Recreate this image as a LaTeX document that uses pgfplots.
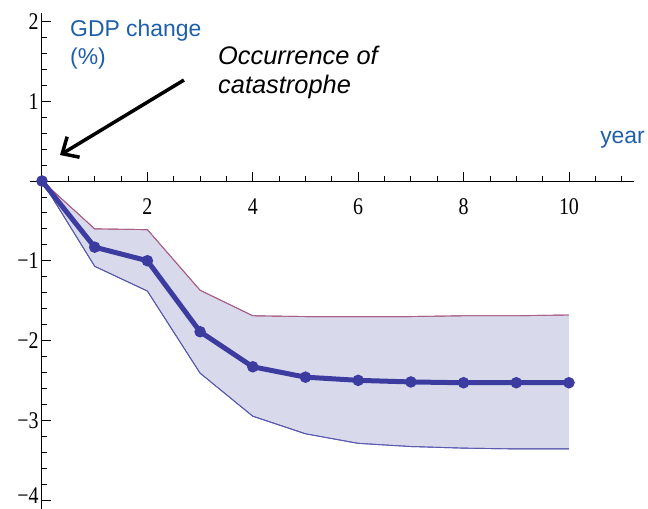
\documentclass[border=0pt]{standalone}
\usepackage{graphicx}
\usepackage{pgfplots}
\pgfplotsset{compat=1.18}
\usepgfplotslibrary{fillbetween}
\usetikzlibrary{arrows.meta}
\usepackage{fontspec}
\setmainfont{Liberation Serif}
\newfontfamily\arial{Liberation Sans}
\definecolor{meanblue}{RGB}{60,60,160}
\definecolor{bandfill}{RGB}{216,218,236}
\definecolor{upedge}{RGB}{170,95,135}
\definecolor{loedge}{RGB}{90,90,175}
\definecolor{txtblue}{RGB}{30,95,170}
\newcommand\tl[1]{\scalebox{1}[1.2]{#1}}
\pgfplotstableread{
x mean upper lower
0 0 0 0
1 -0.83 -0.60 -1.07
2 -1.00 -0.61 -1.38
3 -1.89 -1.37 -2.41
4 -2.33 -1.69 -2.95
5 -2.46 -1.70 -3.17
6 -2.50 -1.70 -3.29
7 -2.52 -1.70 -3.33
8 -2.53 -1.69 -3.35
9 -2.53 -1.69 -3.36
10 -2.53 -1.68 -3.36
}\gdp
\begin{document}
\begin{tikzpicture}
\begin{axis}[
  scale only axis, width=604bp, height=496.3bp,
  xmin=-0.23, xmax=11.23, ymin=-4.113, ymax=2.11,
  axis lines=middle, axis line style={-, line width=1bp, black},
  clip=false,
  xtick={2,4,6,8,10}, xticklabels={\tl{2},\tl{4},\tl{6},\tl{8},\tl{10}},
  minor xtick={0.5,1,...,11},
  ytick={-4,-3,-2,-1,1,2}, yticklabels={\raisebox{8bp}{\tl{−4}},\tl{−3},\tl{−2},\tl{−1},\tl{1},\tl{2}},
  minor ytick={-4,-3.8,...,2},
  tick align=inside,
  major tick length=9bp, minor tick length=5.5bp,
  tick style={black, line width=0.8bp},
  tick label style={font=\fontsize{20}{20}\selectfont},
  xticklabel style={yshift=-14bp},
]
\addplot[name path=up, color=upedge, line width=0.9bp] table[x=x,y=upper]{\gdp};
\addplot[name path=lo, color=loedge, line width=0.9bp] table[x=x,y=lower]{\gdp};
\addplot[bandfill] fill between[of=up and lo];
\addplot[color=upedge, line width=0.9bp] table[x=x,y=upper]{\gdp};
\addplot[color=loedge, line width=0.9bp] table[x=x,y=lower]{\gdp};
\addplot[color=meanblue, line width=5bp, mark=*, mark size=3.1bp] table[x=x,y=mean]{\gdp};
\node[anchor=base west, inner sep=0, text=txtblue, font=\arial\fontsize{23}{23}\selectfont] at (axis cs:0.531,1.806) {GDP change};
\node[anchor=base west, inner sep=0, text=txtblue, font=\arial\fontsize{23}{23}\selectfont] at (axis cs:0.531,1.455) {(\%)};
\node[anchor=base west, inner sep=0, font=\arial\itshape\fontsize{25.5}{25.5}\selectfont] at (axis cs:3.34,1.455) {Occurrence of};
\node[anchor=base west, inner sep=0, font=\arial\itshape\fontsize{25.5}{25.5}\selectfont] at (axis cs:3.34,1.103) {catastrophe};
\node[anchor=base west, inner sep=0, text=txtblue, font=\arial\fontsize{23}{23}\selectfont] at (axis cs:10.59,0.476) {year};
\draw[line width=3.5bp, -{Straight Barb[length=13bp,width=24bp]}] (axis cs:2.694,1.266) -- (axis cs:0.342,0.326);
\coordinate (bl) at (axis cs:-0.797,-4.113);
\coordinate (tr) at (axis cs:11.5,2.27);
\end{axis}
\pgfresetboundingbox
\path (bl) rectangle (tr);
\end{tikzpicture}
\end{document}
